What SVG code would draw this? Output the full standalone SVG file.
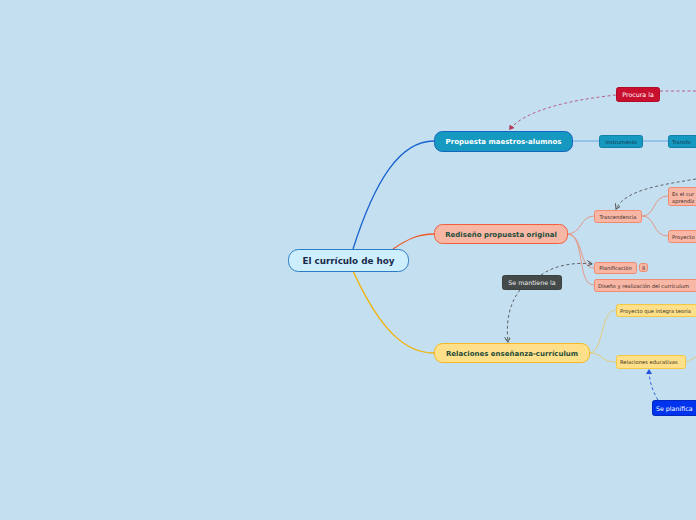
<svg xmlns="http://www.w3.org/2000/svg" width="696" height="520" viewBox="0 0 696 520">
<defs>
<style>
text{font-family:"DejaVu Sans","Liberation Sans",sans-serif;}
.b{font-weight:bold;}
.c{fill:none;stroke-width:1.3;}
.s{fill:none;stroke-width:0.9;}
.d{fill:none;stroke-width:0.9;stroke-dasharray:3 2.5;}
</style>
<marker id="ag" markerWidth="6" markerHeight="6" refX="5" refY="3" orient="auto" markerUnits="userSpaceOnUse"><path d="M0,0 L5,3 L0,6" fill="none" stroke="#555" stroke-width="1"/></marker>
<marker id="ar" markerWidth="6" markerHeight="6" refX="5" refY="3" orient="auto" markerUnits="userSpaceOnUse"><path d="M0,0 L5,3 L0,6 Z" fill="#b8385a"/></marker>
<marker id="ab" markerWidth="6" markerHeight="6" refX="5" refY="3" orient="auto" markerUnits="userSpaceOnUse"><path d="M0,0 L5,3 L0,6 Z" fill="#2050e0"/></marker>
</defs>
<rect width="696" height="520" fill="#c3dff0"/>
<g id="connectors">
<path class="c" stroke="#1a63d0" d="M353,249 C375,180 400,141 434,141"/>
<path class="c" stroke="#f05a28" d="M393,249 C408,239 418,234 434,234"/>
<path class="c" stroke="#f5b000" d="M353,271 C380,330 405,353 434,353"/>
<path class="s" stroke="#5a9ee0" d="M572,141 L599,141 M643,141 L668,141"/>
<path class="s" stroke="#e8907a" d="M567,234 C582,234 580,216 594,216 M567,234 C584,234 578,268 594,268 M567,234 C586,234 576,285 594,285"/>
<path class="s" stroke="#e8907a" d="M642,216 C656,216 652,196 668,196 M642,216 C656,216 652,236 668,236"/>
<path class="s" stroke="#e8c870" d="M589,353 C604,353 600,310 616,310 M589,353 C604,353 600,362 616,362 M685,362 C690,362 692,358 696,357"/>
<path class="d" stroke="#b8507a" d="M696,91 L660,91"/>
<path class="d" stroke="#b8507a" d="M616,95 C570,100 525,110 509,130" marker-end="url(#ar)"/>
<path class="d" stroke="#555" d="M696,179 C660,185 625,190 616,209" marker-end="url(#ag)"/>
<path class="d" stroke="#555" d="M541,275 C555,265 575,262 592,264" marker-end="url(#ag)"/>
<path class="d" stroke="#555" d="M520,290 C508,305 506,325 508,342" marker-end="url(#ag)"/>
<path class="d" stroke="#2050e0" d="M658,400 C652,390 649,380 649,369" marker-end="url(#ab)"/>
</g>
<g id="central">
<rect x="288.5" y="249.5" width="120" height="22" rx="10" fill="#cdeefd" stroke="#2b7cc4"/>
<text class="b" x="348.5" y="264" text-anchor="middle" font-size="8.8" fill="#1a2a4a">El currículo de hoy</text>
</g>
<g id="propuesta">
<rect x="434.5" y="131.5" width="138" height="20" rx="8" fill="#1699c0" stroke="#1565c0"/>
<text class="b" x="503.5" y="144" text-anchor="middle" font-size="7" fill="#fff">Propuesta maestros-alumnos</text>
</g>
<g id="rediseno">
<rect x="434.5" y="224.5" width="133" height="19" rx="8" fill="#f8b7a5" stroke="#f06040"/>
<text class="b" x="501" y="237" text-anchor="middle" font-size="7" fill="#1e4d3a">Rediseño propuesta original</text>
</g>
<g id="relaciones">
<rect x="434.5" y="343.5" width="155" height="19" rx="8" fill="#ffe08a" stroke="#f5b820"/>
<text class="b" x="512" y="356" text-anchor="middle" font-size="7" fill="#1e4d3a">Relaciones enseñanza-currículum</text>
</g>
<g id="instrumento">
<rect x="599.5" y="135.5" width="43" height="12" rx="2" fill="#1699c0" stroke="#1380a8"/>
<text x="621" y="143.8" text-anchor="middle" font-size="5.2" fill="#12384d">Instrumento</text>
</g>
<g id="transforma">
<rect x="668.5" y="135.5" width="40" height="12" rx="2" fill="#1699c0" stroke="#1380a8"/>
<text x="672" y="143.8" font-size="5.2" fill="#12384d">Transfo</text>
</g>
<g id="procura">
<rect x="616.5" y="87.5" width="43" height="14" rx="2" fill="#c8102e" stroke="#b00c28"/>
<text x="638" y="97" text-anchor="middle" font-size="6.3" fill="#fff">Procura la</text>
</g>
<g id="trascendencia">
<rect x="594.5" y="210.5" width="47" height="12" rx="2" fill="#f8b7a5" stroke="#f08a70"/>
<text x="618" y="218.8" text-anchor="middle" font-size="5.2" fill="#3a2a2a">Trascendencia</text>
</g>
<g id="escur">
<rect x="668.5" y="187.5" width="40" height="18" rx="2" fill="#f8b7a5" stroke="#f08a70"/>
<text x="672" y="195.5" font-size="5.2" fill="#3a2a2a">Es el cur</text>
<text x="672" y="202.5" font-size="5.2" fill="#3a2a2a">aprendiz</text>
</g>
<g id="proyecto1">
<rect x="668.5" y="230.5" width="40" height="12" rx="2" fill="#f8b7a5" stroke="#f08a70"/>
<text x="672" y="238.8" font-size="5.2" fill="#3a2a2a">Proyecto</text>
</g>
<g id="planificacion">
<rect x="594.5" y="262.5" width="42" height="11" rx="2" fill="#f8b7a5" stroke="#f08a70"/>
<text x="615.5" y="270.3" text-anchor="middle" font-size="5.2" fill="#3a2a2a">Planificación</text>
<rect x="639.5" y="263.5" width="8" height="8" rx="2" fill="#f8b7a5" stroke="#f08a70"/>
<text x="643.5" y="269.8" text-anchor="middle" font-size="5" fill="#3a2a2a">8</text>
</g>
<g id="diseno">
<rect x="594.5" y="279.5" width="110" height="12" rx="2" fill="#f8b7a5" stroke="#f08a70"/>
<text x="598" y="287.8" font-size="5.2" fill="#3a2a2a">Diseño y realización del currículum</text>
</g>
<g id="semantiene">
<rect x="502.5" y="275.5" width="59" height="14" rx="2" fill="#444a4a" stroke="#3a3f3f"/>
<text x="532" y="285" text-anchor="middle" font-size="6.3" fill="#eee">Se mantiene la</text>
</g>
<g id="proyecto2">
<rect x="616.5" y="304.5" width="90" height="12" rx="2" fill="#ffe08a" stroke="#f5c842"/>
<text x="620" y="312.8" font-size="5.2" fill="#3a3020">Proyecto que integra teoría</text>
</g>
<g id="relacioneseducativas">
<rect x="616.5" y="355.5" width="69" height="13" rx="2" fill="#ffe08a" stroke="#f5c842"/>
<text x="620" y="364.3" font-size="5.2" fill="#3a3020">Relaciones educativas</text>
</g>
<g id="seplanifica">
<rect x="652.5" y="400.5" width="50" height="15" rx="2" fill="#0033ee" stroke="#0028c0"/>
<text x="656" y="410.5" font-size="6.3" fill="#fff">Se planifica</text>
</g>
</svg>
